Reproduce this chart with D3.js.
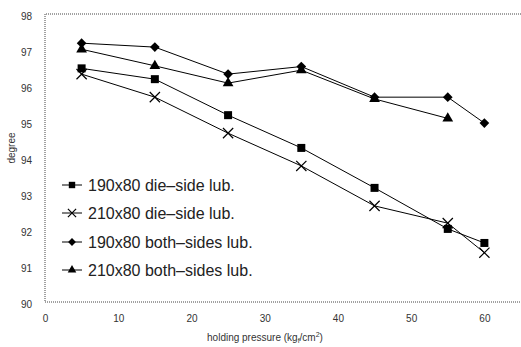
<!DOCTYPE html>
<html>
<head>
<meta charset="UTF-8">
<style>
  body { margin: 0; background: #fff; }
  svg { display: block; font-family: "Liberation Sans", Arial, sans-serif; }
  .tick text { fill: #333; font-size: 10px; }
</style>
</head>
<body>
<svg id="chart" width="521" height="347"></svg>
<script src="https://d3js.org/d3.v7.min.js"></script>
<script>
const pressure = [5, 15, 25, 35, 45, 55, 60];
const seriesNames = ["190x80 die-side lub.", "210x80 die-side lub.", "190x80 both-sides lub.", "210x80 both-sides lub."];
const die190 = [96.49, 96.19, 95.19, 94.28, 93.17, 92.03, 91.64];
const die210 = [96.33, 95.69, 94.69, 93.78, 92.67, 92.19, 91.37];
const both190 = [97.19, 97.08, 96.33, 96.54, 95.69, 95.69, 94.97];
const both210 = [97.02, 96.56, 96.08, 96.44, 95.64, 95.10];
const markers = ["square", "cross", "diamond", "triangle"];
const xTicks = [0, 10, 20, 30, 40, 50, 60];
const yTicks = [90, 91, 92, 93, 94, 95, 96, 97, 98];

const svg = d3.select("#chart");
const plotLeft = 45, plotRight = 521, plotTop = 14, plotBottom = 302;

const x = d3.scaleLinear().domain([0, 65]).range([plotLeft, plotRight]);
const y = d3.scaleLinear().domain([90, 98]).range([plotBottom, plotTop]);

// dotted frame (no right side visible)
svg.append("path")
  .attr("d", `M${plotRight},${plotTop}H${plotLeft}V${plotBottom}H${plotRight}`)
  .attr("fill", "none").attr("stroke", "#444").attr("stroke-width", 1)
  .attr("stroke-dasharray", "1,1");

// axes, labels only
const xAxis = svg.append("g").attr("transform", `translate(0,${plotBottom})`)
  .call(d3.axisBottom(x).tickValues(xTicks).tickSize(0).tickPadding(13));
xAxis.select(".domain").remove();

const yAxis = svg.append("g").attr("transform", `translate(${plotLeft},0)`)
  .call(d3.axisLeft(y).tickValues(yTicks).tickSize(0).tickPadding(13));
yAxis.select(".domain").remove();
yAxis.selectAll("text").attr("dy", "0.55em");

svg.append("text").attr("transform", "translate(15,148) rotate(-90)")
  .attr("text-anchor", "middle").attr("font-size", 10).attr("fill", "#333").text("degree");

const xt = svg.append("text").attr("x", 265).attr("y", 341)
  .attr("text-anchor", "middle").attr("font-size", 10).attr("fill", "#333");
xt.append("tspan").text("holding pressure (kg");
xt.append("tspan").attr("font-size", 7).attr("dy", 2).text("f");
xt.append("tspan").attr("dy", -2).text("/cm");
xt.append("tspan").attr("font-size", 7).attr("dy", -4).text("2");
xt.append("tspan").attr("dy", 4).text(")");

const symbolFor = {
  square: d3.symbol().type(d3.symbolSquare).size(64),
  cross: d3.symbol().type(d3.symbolX).size(70),
  diamond: d3.symbol().type(d3.symbolDiamond2).size(60),
  triangle: d3.symbol().type(d3.symbolTriangle).size(50)
};

function drawMarker(g, kind, cx, cy, scale) {
  const p = g.append("path").attr("d", symbolFor[kind]())
    .attr("transform", `translate(${cx},${cy}) scale(${scale || 1})`);
  if (kind === "cross") p.attr("fill", "none").attr("stroke", "#000").attr("stroke-width", 1.2 / (scale || 1));
  else p.attr("fill", "#000");
}

const allSeries = [die190, die210, both190, both210];
const line = d3.line().x(d => x(d[0])).y(d => y(d[1]));

allSeries.forEach((vals, i) => {
  const pts = vals.map((v, j) => [pressure[j], v]);
  svg.append("path").datum(pts).attr("d", line)
    .attr("fill", "none").attr("stroke", "#000").attr("stroke-width", 1);
  const g = svg.append("g");
  pts.forEach(p => drawMarker(g, markers[i], x(p[0]), y(p[1])));
});

// legend
const legendY = [185, 213, 242, 270];
seriesNames.forEach((name, i) => {
  const g = svg.append("g");
  g.append("line").attr("x1", 62).attr("x2", 82).attr("y1", legendY[i]).attr("y2", legendY[i])
    .attr("stroke", "#000").attr("stroke-width", 1);
  drawMarker(g, markers[i], 72, legendY[i], 0.8);
  g.append("text").attr("x", 88).attr("y", legendY[i]).attr("dy", "0.35em")
    .attr("font-size", 16).attr("fill", "#222").text(name.replace(/-/g, "\u2013"));
});
</script>
</body>
</html>
